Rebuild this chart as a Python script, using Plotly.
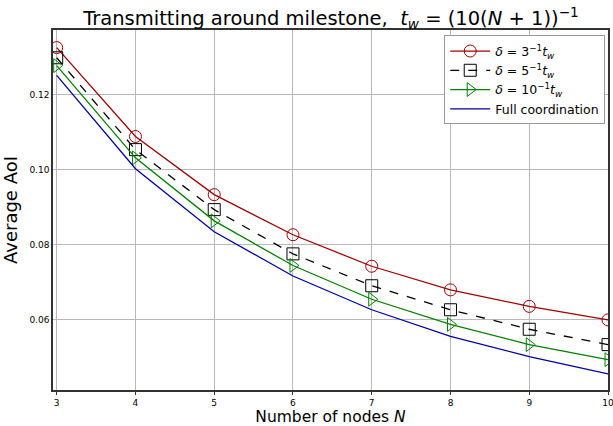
import plotly.graph_objects as go

nodes = [3, 4, 5, 6, 7, 8, 9, 10]
aoi_delta3 = [0.1325, 0.1088, 0.0933, 0.0826, 0.0742, 0.0679, 0.0635, 0.0599]
aoi_delta5 = [0.1298, 0.1053, 0.0893, 0.0775, 0.0690, 0.0626, 0.0574, 0.0533]
aoi_delta10 = [0.1277, 0.1031, 0.0863, 0.0744, 0.0654, 0.0587, 0.0533, 0.0493]
aoi_full = [0.1251, 0.1002, 0.0834, 0.0716, 0.0626, 0.0555, 0.0501, 0.0455]
y_ticks = [0.06, 0.08, 0.10, 0.12]

fig = go.Figure()
fig.add_trace(go.Scatter(x=nodes, y=aoi_delta3, mode="lines+markers",
                         name="<i>δ</i> = 3<sup>−1</sup><i>t<sub>w</sub></i>",
                         line=dict(color="#a00000", width=1.3),
                         marker=dict(symbol="circle-open", size=12, color="#a00000", line=dict(width=1))))
fig.add_trace(go.Scatter(x=nodes, y=aoi_delta5, mode="lines+markers",
                         name="<i>δ</i> = 5<sup>−1</sup><i>t<sub>w</sub></i>",
                         line=dict(color="black", width=1.3, dash="dash"),
                         marker=dict(symbol="square-open", size=12, color="black", line=dict(width=1))))
fig.add_trace(go.Scatter(x=nodes, y=aoi_delta10, mode="lines+markers",
                         name="<i>δ</i> = 10<sup>−1</sup><i>t<sub>w</sub></i>",
                         line=dict(color="#008000", width=1.3),
                         marker=dict(symbol="triangle-right-open", size=12, color="#008000", line=dict(width=1))))
fig.add_trace(go.Scatter(x=nodes, y=aoi_full, mode="lines",
                         name="Full coordination",
                         line=dict(color="#0000a0", width=1.3)))

fig.update_layout(
    width=613, height=426,
    margin=dict(l=53, r=5, t=30, b=36, autoexpand=False),
    paper_bgcolor="white", plot_bgcolor="white",
    font=dict(family="DejaVu Sans", color="black"),
    title=dict(text="Transmitting around milestone,  <i>t<sub>w</sub></i> = (10(<i>N</i> + 1))<sup>−1</sup>",
               x=0.54, xanchor="center", y=0.957, yanchor="middle", automargin=False,
               font=dict(size=19.5, family="DejaVu Sans")),
    legend=dict(x=0.995, y=0.985, xanchor="right", yanchor="top",
                bgcolor="white", bordercolor="#999", borderwidth=1,
                font=dict(size=12.5, family="DejaVu Sans"), tracegroupgap=0, itemwidth=40),
    showlegend=True,
)
fig.update_xaxes(range=[2.953, 10.0], tickvals=nodes, ticktext=[str(n) for n in nodes],
                 showgrid=True, gridcolor="#b8b8b8", gridwidth=1,
                 showline=True, linecolor="#333", linewidth=1.5, mirror=True,
                 ticks="outside", ticklen=3, tickcolor="#333", automargin=False,
                 ticklabeloverflow="allow",
                 tickfont=dict(size=9), zeroline=False,
                 title=dict(text="Number of nodes <i>N</i>", font=dict(size=15.5)))
fig.update_yaxes(range=[0.0412, 0.1372], tickvals=y_ticks, tickformat=".2f",
                 showgrid=True, gridcolor="#b8b8b8", gridwidth=1,
                 showline=True, linecolor="#333", linewidth=1.5, mirror=True, automargin=False,
                 ticks="", tickfont=dict(size=9), zeroline=False,
                 title=dict(text="Average AoI", font=dict(size=18), standoff=14))

fig.write_html("out.html", config={"displayModeBar": False},
               post_script="document.body.style.margin='0';document.body.style.overflow='hidden';")
